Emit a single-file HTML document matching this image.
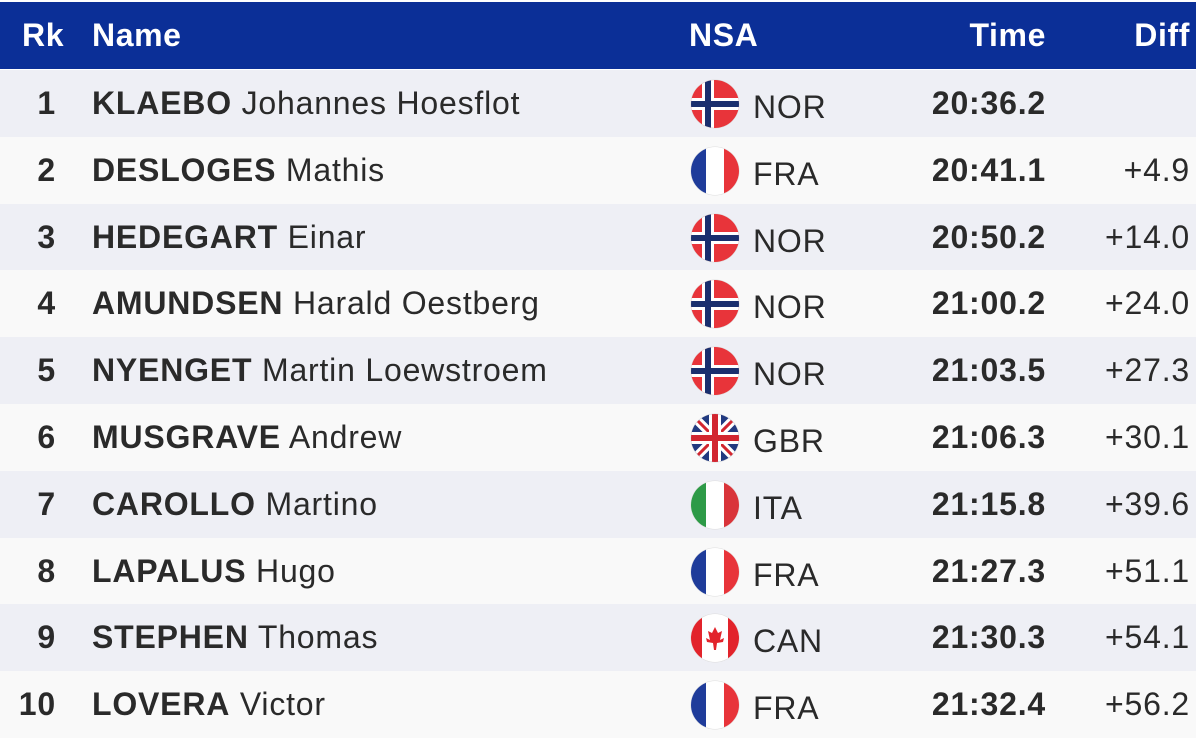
<!DOCTYPE html>
<html><head><style>
body{margin:0;width:1200px;height:741px;overflow:hidden;background:#fff;font-family:"Liberation Sans",Arial,sans-serif;}
.hdr{position:absolute;left:0;top:2px;width:1196px;height:67px;background:#0b2f97;color:#fff;font-weight:bold;font-size:32px;letter-spacing:0.6px;}
.hdr div,.row div{position:absolute;line-height:67px;white-space:nowrap;}
.row{position:absolute;left:0;width:1196px;height:67px;font-size:32px;letter-spacing:0.8px;color:#2a2a2a;}
.odd{background:#eeeff5}.even{background:#f9f9f9}
.rk{right:1140px;text-align:right;font-weight:bold}
.nm{left:92px}.nm b{font-weight:bold}
.fl{left:690px;top:9px;width:50px;height:50px;}
.ns{left:753px;top:4px}
.tm{right:150px;font-weight:bold}
.df{right:6px}
</style></head><body>
<div class="hdr"><div style="left:22px">Rk</div><div style="left:92px">Name</div><div style="left:689px">NSA</div><div style="right:150px">Time</div><div style="right:6px">Diff</div></div>
<svg width="0" height="0" style="position:absolute"><defs>
<clipPath id="c"><circle cx="25" cy="25" r="24"/></clipPath>
<g id="NOR" clip-path="url(#c)"><rect width="50" height="50" fill="#e8343a"/><rect x="12" width="12" height="50" fill="#fff"/><rect y="19" width="50" height="12" fill="#fff"/><rect x="15" width="6" height="50" fill="#1a2f6e"/><rect y="22" width="50" height="6" fill="#1a2f6e"/></g>
<g id="FRA" clip-path="url(#c)"><rect width="50" height="50" fill="#fff"/><rect width="16" height="50" fill="#1f3c9a"/><rect x="34" width="16" height="50" fill="#e8343a"/></g>
<g id="ITA" clip-path="url(#c)"><rect width="50" height="50" fill="#fff"/><rect width="16" height="50" fill="#2d9a47"/><rect x="34" width="16" height="50" fill="#d9343a"/></g>
<g id="CAN" clip-path="url(#c)"><rect width="50" height="50" fill="#fff"/><rect width="12" height="50" fill="#e2232b"/><rect x="38" width="12" height="50" fill="#e2232b"/><path d="M25 14 L28 20 L32 18 L30 27 L34 25 L33 29 L27 30 L26 37 L24 37 L23 30 L17 29 L16 25 L20 27 L18 18 L22 20Z" fill="#e2232b"/></g>
<g id="GBR" clip-path="url(#c)"><rect width="50" height="50" fill="#223a80"/><path d="M0 0L50 50M50 0L0 50" stroke="#fff" stroke-width="9"/><path d="M0 0L50 50M50 0L0 50" stroke="#d22630" stroke-width="3"/><rect x="19" width="12" height="50" fill="#fff"/><rect y="19" width="50" height="12" fill="#fff"/><rect x="22" width="6" height="50" fill="#d22630"/><rect y="22" width="50" height="6" fill="#d22630"/></g>
</defs></svg>
<div id="rows"></div>
<script>
var d=[["1","KLAEBO","Johannes Hoesflot","NOR","20:36.2",""],["2","DESLOGES","Mathis","FRA","20:41.1","+4.9"],["3","HEDEGART","Einar","NOR","20:50.2","+14.0"],["4","AMUNDSEN","Harald Oestberg","NOR","21:00.2","+24.0"],["5","NYENGET","Martin Loewstroem","NOR","21:03.5","+27.3"],["6","MUSGRAVE","Andrew","GBR","21:06.3","+30.1"],["7","CAROLLO","Martino","ITA","21:15.8","+39.6"],["8","LAPALUS","Hugo","FRA","21:27.3","+51.1"],["9","STEPHEN","Thomas","CAN","21:30.3","+54.1"],["10","LOVERA","Victor","FRA","21:32.4","+56.2"]];
var h="";d.forEach(function(r,i){var t=70+i*66.8;
h+='<div class="row '+(i%2?'even':'odd')+'" style="top:'+t+'px"><div class="rk">'+r[0]+'</div><div class="nm"><b>'+r[1]+'</b> '+r[2]+'</div><svg class="fl" style="position:absolute" viewBox="0 0 50 50"><circle cx="25" cy="25" r="24.5" fill="#ddd"/><use href="#'+r[3]+'"/></svg><div class="ns">'+r[3]+'</div><div class="tm">'+r[4]+'</div><div class="df">'+r[5]+'</div></div>';});
document.getElementById("rows").innerHTML=h;
</script>
</body></html>
